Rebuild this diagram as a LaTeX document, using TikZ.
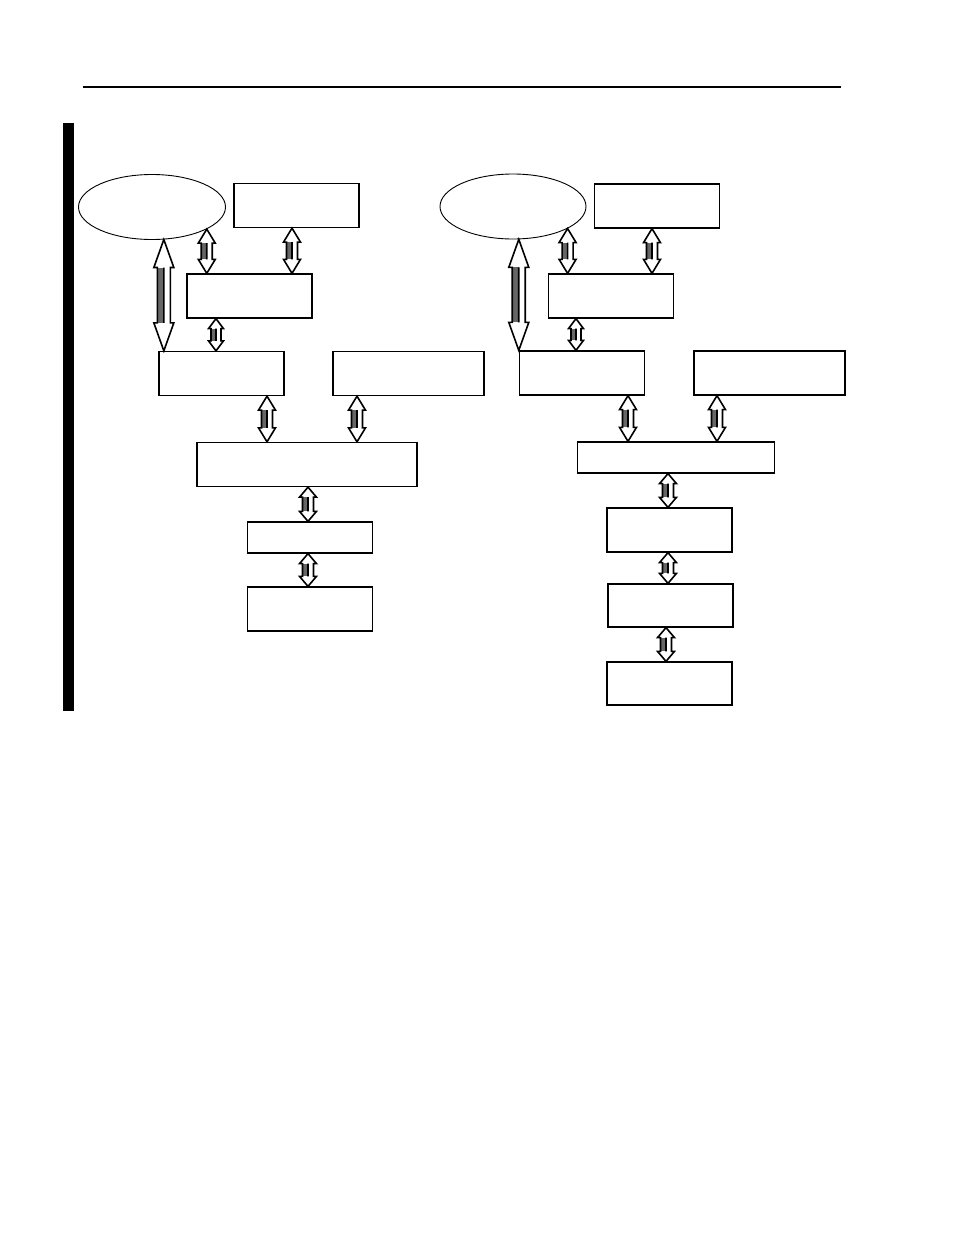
\documentclass[tikz,border=0pt]{standalone}
\usetikzlibrary{calc,shapes.geometric}
% vertical two-headed block arrow: top end, bottom end, head length, head half width, shaft half width
\newcommand{\bus}[5]{%
  \fill[gray!80!black] let \p1=(#1), \p2=(#2) in (\x1-#5pt,\y1-#3pt) rectangle (\x1,\y2+#3pt);
  \draw[line width=1.6pt, line join=miter] let \p1=(#1), \p2=(#2) in
    (\x1,\y1)--(\x1+#4pt,\y1-#3pt)--(\x1+#5pt,\y1-#3pt)--(\x1+#5pt,\y2+#3pt)--(\x1+#4pt,\y2+#3pt)--(\x1,\y2)
    --(\x1-#4pt,\y2+#3pt)--(\x1-#5pt,\y2+#3pt)--(\x1-#5pt,\y1-#3pt)--(\x1-#4pt,\y1-#3pt)--cycle
    (\x1,\y1-#3pt)--(\x1,\y2+#3pt);
}
\begin{document}
\begin{tikzpicture}[x=1pt, y=-1pt, line cap=butt,
    block/.style={draw, line width=1.3pt, inner sep=0pt, minimum width=125pt, minimum height=44pt},
    oval/.style={draw, ellipse, line width=0.9pt, inner sep=0pt, minimum width=147pt, minimum height=65pt}]
  \useasboundingbox (0,0) rectangle (954,1235);
  % frame
  \draw[line width=2pt] (83,87)--(841,87);
  \fill (63,123) rectangle (74,711);
  % left chart
  \node[oval] (elL) at (152,207) {};
  \node[block] (aL) at (296.5,205.5) {};
  \node[block] (bL) at (249.5,296) {};
  \node[block] (cL) at (221.5,373.5) {};
  \node[block, minimum width=151pt] (dL) at (408.5,373.5) {};
  \node[block, minimum width=220pt] (eL) at (307,464.5) {};
  \node[block, minimum height=31pt] (fL) at (310,537.5) {};
  \node[block] (gL) at (310,609) {};
  \bus{elL.-70}{cL.north}{28}{10}{6.5}
  \bus{elL.-22}{bL.north}{14}{8.5}{5.5}
  \bus{[xshift=-4.5pt]aL.south}{bL.north}{14}{8.5}{5.5}
  \bus{[xshift=-33.5pt]bL.south}{cL.north}{10}{7.5}{5}
  \bus{[xshift=45.5pt]cL.south}{eL.north}{14}{8.5}{5.5}
  \bus{[xshift=-51.5pt]dL.south}{eL.north}{14}{8.5}{5.5}
  \bus{[xshift=1pt]eL.south}{fL.north}{10}{8.5}{5.5}
  \bus{[xshift=-2pt]fL.south}{gL.north}{10}{8.5}{5.5}
  % right chart
  \node[oval, minimum width=146pt] (elR) at (513,206.5) {};
  \node[block] (aR) at (657,206) {};
  \node[block] (bR) at (611,296) {};
  \node[block] (cR) at (582,373) {};
  \node[block, minimum width=151pt] (dR) at (769.5,373) {};
  \node[block, minimum width=197pt, minimum height=31pt] (eR) at (676,457.5) {};
  \node[block] (fR) at (669.5,530) {};
  \node[block, minimum height=43pt] (gR) at (670.5,605.5) {};
  \node[block, minimum height=43pt] (hR) at (669.5,683.5) {};
  \bus{elR.-80}{cR.north}{28}{10}{6.5}
  \bus{elR.-22}{bR.north}{14}{8.5}{5.5}
  \bus{[xshift=-5pt]aR.south}{bR.north}{14}{8.5}{5.5}
  \bus{[xshift=-35pt]bR.south}{cR.north}{10}{7.5}{5}
  \bus{[xshift=46pt]cR.south}{eR.north}{14}{8.5}{5.5}
  \bus{[xshift=-52.5pt]dR.south}{eR.north}{14}{8.5}{5.5}
  \bus{[xshift=-8pt]eR.south}{fR.north}{10}{8.5}{5.5}
  \bus{[xshift=-1.5pt]fR.south}{gR.north}{10}{8.5}{5.5}
  \bus{[xshift=-4.5pt]gR.south}{hR.north}{10}{8.5}{5.5}
\end{tikzpicture}
\end{document}
